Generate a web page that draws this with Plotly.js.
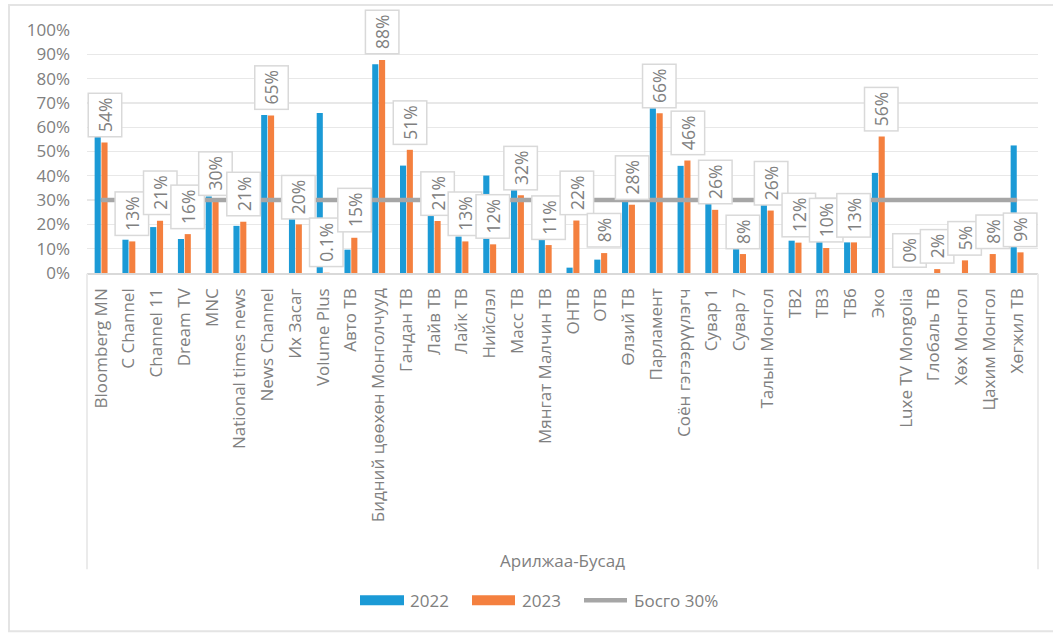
<!DOCTYPE html>
<html>
<head>
<meta charset="utf-8">
<script src="https://cdn.plot.ly/plotly-3.0.1.min.js"></script>
<style>html,body{margin:0;padding:0;background:#fff;}#chart{width:1053px;height:633px;}</style>
</head>
<body>
<div id="chart"></div>
<script>
var categories = ["Bloomberg MN","C Channel","Channel 11","Dream TV","MNC","National times news","News Channel","Их Засаг","Volume Plus","Авто ТВ","Бидний цөөхөн Монголчууд","Гандан ТВ","Лайв ТВ","Лайк ТВ","Нийслэл","Масс ТВ","Мянгат Малчин ТВ","ОНТВ","ОТВ","Өлзий ТВ","Парламент","Соён гэгээрүүлэгч","Сувар 1","Сувар 7","Талын Монгол","ТВ2","ТВ3","ТВ6","Эко","Luxe TV Mongolia","Глобаль ТВ","Хөх Монгол","Цахим Монгол","Хөгжил ТВ"];
var values2022 = [0.561,0.137,0.189,0.140,0.315,0.194,0.650,0.223,0.658,0.096,0.859,0.442,0.238,0.150,0.401,0.342,0.137,0.022,0.055,0.298,0.678,0.441,0.288,0.101,0.281,0.133,0.130,0.126,0.412,0,0,0,0,0.525];
var values2023 = [0.537,0.130,0.215,0.160,0.296,0.211,0.648,0.200,0.001,0.145,0.877,0.507,0.214,0.130,0.118,0.320,0.115,0.216,0.082,0.281,0.657,0.463,0.260,0.078,0.257,0.125,0.103,0.126,0.562,0,0.016,0.052,0.078,0.085];
var labels2023 = ["54%","13%","21%","16%","30%","21%","65%","20%","0.1%","15%","88%","51%","21%","13%","12%","32%","11%","22%","8%","28%","66%","46%","26%","8%","26%","12%","10%","13%","56%","0%","2%","5%","8%","9%"];
var thresholdValue = 0.3;
var threshold = categories.map(function(){ return thresholdValue; });
var seriesNames = ["2022","2023","Босго 30%"];
var axisTitle = "Арилжаа-Бусад";

var W = 1053, H = 633;
var L = 87, R = 1038, T = 30, B = 273.3;
function px(x){ return (x - L) / (R - L); }
function py(y){ return (B - y) / (B - T); }

var FONT = "Open Sans, Noto Sans, sans-serif";
var GRAY = "#808080";
var BLUE = "#1b9ad6", ORANGE = "#f4803f", LINEGRAY = "#a6a6a6";

var traces = [
  {type:"bar", name:seriesNames[0], x:categories, y:values2022, marker:{color:BLUE}, hoverinfo:"x+y"},
  {type:"bar", name:seriesNames[1], x:categories, y:values2023, marker:{color:ORANGE}, hoverinfo:"x+y"},
  {type:"scatter", mode:"lines", name:seriesNames[2], x:categories, y:threshold, line:{color:LINEGRAY, width:4.5}, hoverinfo:"y"}
];

var annotations = categories.map(function(c, i){
  return {
    x: c, y: values2023[i], xref:"x", yref:"y",
    text: labels2023[i], showarrow:false, textangle:-90,
    xanchor:"center", yanchor:"bottom", xshift:3.4, yshift:5,
    bgcolor:"#ffffff", bordercolor:"#d9d9d9", borderwidth:1.5, borderpad:4,
    font:{family:FONT, size:17.5, color:GRAY}
  };
});

// custom legend
var legY = 601;
var shapes = [
  {type:"rect", xref:"paper", yref:"paper", x0:px(9), x1:px(1070), y0:py(5), y1:py(632), line:{color:"#e4e4e4", width:2}, fillcolor:"rgba(0,0,0,0)", layer:"below"},
  {type:"line", xref:"paper", yref:"paper", x0:px(87), x1:px(87), y0:py(274), y1:py(570), line:{color:"#ebebeb", width:2}},
  {type:"line", xref:"paper", yref:"paper", x0:px(1038), x1:px(1038), y0:py(274), y1:py(570), line:{color:"#ebebeb", width:2}},
  {type:"rect", xref:"paper", yref:"paper", x0:px(360), x1:px(404), y0:py(legY-5), y1:py(legY+5), fillcolor:BLUE, line:{width:0}},
  {type:"rect", xref:"paper", yref:"paper", x0:px(472), x1:px(515), y0:py(legY-5), y1:py(legY+5), fillcolor:ORANGE, line:{width:0}},
  {type:"line", xref:"paper", yref:"paper", x0:px(584), x1:px(627), y0:py(legY), y1:py(legY), line:{color:LINEGRAY, width:4.5}}
];
var legTexts = [[408, seriesNames[0]],[520, seriesNames[1]],[632, seriesNames[2]]];
legTexts.forEach(function(t){
  annotations.push({xref:"paper", yref:"paper", x:px(t[0]), y:py(legY), text:t[1], showarrow:false,
    xanchor:"left", yanchor:"middle", font:{family:FONT, size:17, color:GRAY}});
});

var layout = {
  width:W, height:H,
  margin:{l:L, r:W-R, t:T, b:H-B, pad:0},
  paper_bgcolor:"#ffffff", plot_bgcolor:"#ffffff",
  font:{family:FONT, color:GRAY},
  showlegend:false,
  barmode:"group", bargap:0.51, bargroupgap:0.1,
  xaxis:{
    type:"category", tickangle:-90, automargin:false,
    tickfont:{family:FONT, size:17, color:GRAY},
    showgrid:false, showline:true, linecolor:"#d9d9d9", linewidth:1.5,
    ticks:"", ticklabelstandoff:7,
    title:{text:axisTitle, font:{family:FONT, size:17, color:GRAY}, standoff:34}
  },
  yaxis:{
    range:[0,1.0001], tickvals:[0,0.1,0.2,0.3,0.4,0.5,0.6,0.7,0.8,0.9,1],
    tickformat:".0%", automargin:false,
    tickfont:{family:FONT, size:17, color:GRAY},
    showgrid:true, gridcolor:"#e8e8e8", gridwidth:1.3,
    zeroline:false, showline:false, ticks:"", ticklabelstandoff:16
  },
  annotations:annotations,
  shapes:shapes
};

Plotly.newPlot("chart", traces, layout, {displayModeBar:false, staticPlot:true});
</script>
</body>
</html>
